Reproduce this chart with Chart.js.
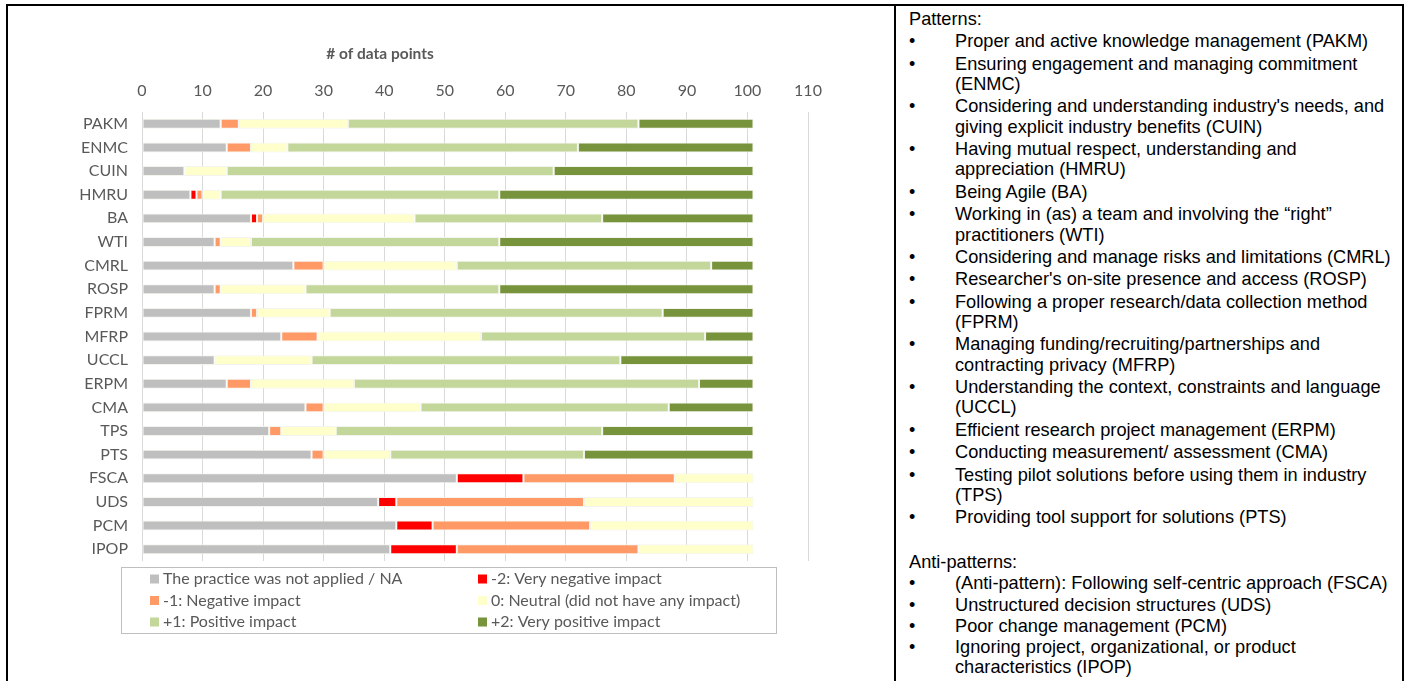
<!DOCTYPE html>
<html>
<head>
<meta charset="utf-8">
<title># of data points</title>
<script src="https://cdn.jsdelivr.net/npm/chart.js@4.4.1/dist/chart.umd.min.js"></script>
<style>
  html, body { margin: 0; padding: 0; background: #fff; }
  body { width: 1412px; height: 681px; position: relative; overflow: hidden; }
  .rule { position: absolute; background: #000; }
  #chartBox { position: absolute; left: 10px; top: 8px; width: 884px; height: 673px; }
  #notes { position: absolute; left: 909px; top: 9px; font-family: "Liberation Sans", Arial, sans-serif; font-size: 18.2px; color: #000; }
  #notes .ln { line-height: 20.3px; white-space: nowrap; }
  #notes .item { position: relative; padding-left: 46px; margin-top: 2.1px; }
  #notes .item.tight { margin-top: 0.9px; }
  #notes .item::before { content: "\2022"; position: absolute; left: 0; top: 0; font-size: 18px; line-height: 20.3px; }
  #notes .gap { height: 22.6px; }
</style>
</head>
<body>
<div class="rule" style="left:6px;top:4px;width:1398px;height:2px;"></div>
<div class="rule" style="left:6px;top:4px;width:2px;height:700px;"></div>
<div class="rule" style="left:894px;top:4px;width:2px;height:700px;"></div>
<div class="rule" style="left:1402px;top:4px;width:2px;height:700px;"></div>

<div id="chartBox"><canvas id="chart"></canvas></div>
<div id="notes"></div>

<script>
// Practices, top to bottom
const categories = ['PAKM','ENMC','CUIN','HMRU','BA','WTI','CMRL','ROSP','FPRM','MFRP',
                    'UCCL','ERPM','CMA','TPS','PTS','FSCA','UDS','PCM','IPOP'];

// Number of data points per impact level
const notApplied   = [13,14, 7, 8,18,12,25,12,18,23,12,14,27,21,28,52,39,42,41];
const veryNegative = [ 0, 0, 0, 1, 1, 0, 0, 0, 0, 0, 0, 0, 0, 0, 0,11, 3, 6,11];
const negative     = [ 3, 4, 0, 1, 1, 1, 5, 1, 1, 6, 0, 4, 3, 2, 2,25,31,26,30];
const neutral      = [18, 6, 7, 3,25, 5,22,14,12,27,16,17,16, 9,11,13,28,27,19];
const positive     = [48,48,54,46,31,41,42,32,55,37,51,57,41,44,32, 0, 0, 0, 0];
const veryPositive = [19,29,33,42,25,42, 7,42,15, 8,22, 9,14,25,28, 0, 0, 0, 0];

const seriesLabels = [
  'The practice was not applied / NA',
  '-2: Very negative impact',
  '-1: Negative impact',
  '0: Neutral (did not have any impact)',
  '+1: Positive impact',
  '+2: Very positive impact'
];
const seriesColors = ['#bfbfbf', '#ff0000', '#ff9966', '#ffffcc', '#c4d79b', '#77933c'];

// Axis scale
const axisMin = 0;
const axisMax = 110;
const axisStep = 10;
const axisTitle = '# of data points';

// Descriptions shown next to the chart
const patternNotes = [
  ['Proper and active knowledge management (PAKM)'],
  ['Ensuring engagement and managing commitment', '(ENMC)'],
  ["Considering and understanding industry's needs, and", 'giving explicit industry benefits (CUIN)'],
  ['Having mutual respect, understanding and', 'appreciation (HMRU)'],
  ['Being Agile (BA)'],
  ['Working in (as) a team and involving the \u201cright\u201d', 'practitioners (WTI)'],
  ['Considering and manage risks and limitations (CMRL)'],
  ["Researcher's on-site presence and access (ROSP)"],
  ['Following a proper research/data collection method', '(FPRM)'],
  ['Managing funding/recruiting/partnerships and', 'contracting privacy (MFRP)'],
  ['Understanding the context, constraints and language', '(UCCL)'],
  ['Efficient research project management (ERPM)'],
  ['Conducting measurement/ assessment (CMA)'],
  ['Testing pilot solutions before using them in industry', '(TPS)'],
  ['Providing tool support for solutions (PTS)']
];
const antiPatternNotes = [
  ['(Anti-pattern): Following self-centric approach (FSCA)'],
  ['Unstructured decision structures (UDS)'],
  ['Poor change management (PCM)'],
  ['Ignoring project, organizational, or product', 'characteristics (IPOP)']
];

// Build the description column
(function buildNotes() {
  const box = document.getElementById('notes');
  const addLine = (parent, text) => {
    const d = document.createElement('div');
    d.className = 'ln';
    d.textContent = text;
    parent.appendChild(d);
  };
  const addList = (items, extraClass) => {
    items.forEach(lines => {
      const it = document.createElement('div');
      it.className = 'item' + (extraClass ? ' ' + extraClass : '');
      lines.forEach(t => addLine(it, t));
      box.appendChild(it);
    });
  };
  addLine(box, 'Patterns:');
  addList(patternNotes);
  const g = document.createElement('div'); g.className = 'gap'; box.appendChild(g);
  const head = document.createElement('div'); head.className = 'ln'; head.style.marginTop = '2.1px';
  head.textContent = 'Anti-patterns:'; box.appendChild(head);
  addList(antiPatternNotes, 'tight');
})();

const seriesValues = [notApplied, veryNegative, negative, neutral, positive, veryPositive];
const datasets = seriesValues.map((vals, i) => ({
  label: seriesLabels[i],
  data: vals,
  backgroundColor: seriesColors[i],
  borderColor: '#f4f4ee',
  borderWidth: 1,
  borderSkipped: false,
  categoryPercentage: 1,
  barPercentage: 0.42
}));

const textGrey = '#595959';
const fontFamily = 'Lato, "Open Sans", sans-serif';

// Axis caption drawn above the value ticks
const axisCaption = {
  id: 'axisCaption',
  afterDraw(chart) {
    const ctx = chart.ctx;
    ctx.save();
    ctx.font = 'bold 15.5px ' + fontFamily;
    ctx.fillStyle = textGrey;
    ctx.textAlign = 'center';
    ctx.textBaseline = 'middle';
    ctx.fillText(axisTitle, 370, 46);
    ctx.restore();
  }
};

// Boxed two-column legend under the plot
const legendPanel = {
  id: 'legendPanel',
  afterDraw(chart) {
    const ctx = chart.ctx;
    const bx = 111, by = 559, bw = 655, bh = 66;
    ctx.save();
    ctx.strokeStyle = '#bfbfbf';
    ctx.lineWidth = 1;
    ctx.strokeRect(bx + 0.5, by + 0.5, bw, bh);
    ctx.font = '16px ' + fontFamily;
    ctx.textBaseline = 'middle';
    chart.data.datasets.forEach((ds, i) => {
      const col = i % 2, row = Math.floor(i / 2);
      const x = bx + 29 + col * 328;
      const y = by + 12 + row * 21.5;
      ctx.fillStyle = ds.backgroundColor;
      ctx.fillRect(x, y - 4.5, 9, 9);
      ctx.fillStyle = textGrey;
      ctx.fillText(ds.label, x + 13, y);
    });
    ctx.restore();
  }
};

new Chart(document.getElementById('chart'), {
  type: 'bar',
  data: { labels: categories, datasets },
  plugins: [axisCaption, legendPanel],
  options: {
    indexAxis: 'y',
    responsive: true,
    maintainAspectRatio: false,
    animation: false,
    layout: { padding: { left: 0, top: 0, right: 86, bottom: 120 } },
    plugins: {
      legend: { display: false },
      tooltip: { enabled: false },
      title: { display: false }
    },
    scales: {
      x: {
        position: 'top',
        stacked: true,
        min: axisMin,
        max: axisMax,
        ticks: { stepSize: axisStep, color: textGrey, font: { family: fontFamily, size: 16 }, padding: 12, maxRotation: 0 },
        grid: { color: '#d9d9d9', lineWidth: 1, drawTicks: false },
        border: { display: false },
        afterFit(scale) { scale.height = 104; }
      },
      y: {
        stacked: true,
        ticks: { color: textGrey, font: { family: fontFamily, size: 16 }, padding: 14 },
        grid: { display: false, drawTicks: false },
        border: { display: false },
        afterFit(scale) { scale.width = 132; }
      }
    }
  }
});
</script>
</body>
</html>
